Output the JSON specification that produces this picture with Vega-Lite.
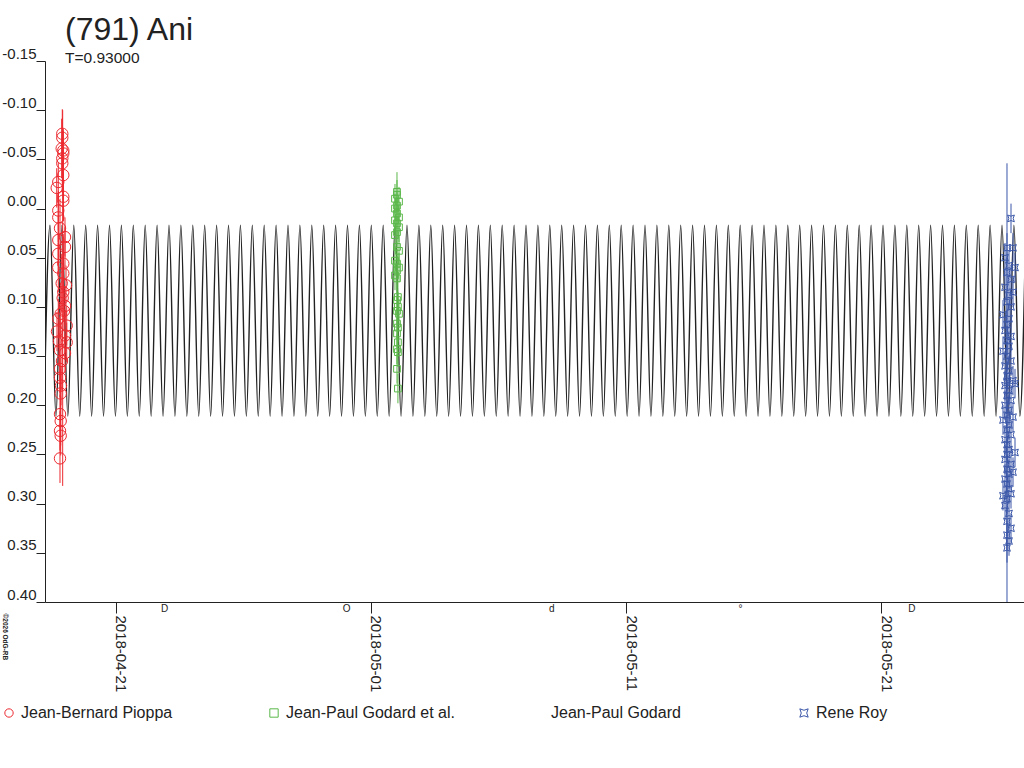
{
  "$schema": "https://vega.github.io/schema/vega-lite/v6.json",
  "width": 979,
  "height": 541,
  "autosize": {"type": "none"},
  "padding": {"left": 45, "top": 61, "right": 0, "bottom": 166},
  "config": {"font": "Liberation Sans", "view": {"stroke": null}},
  "title": {
    "text": "(791) Ani",
    "subtitle": "T=0.93000",
    "anchor": "start",
    "frame": "group",
    "dx": 20,
    "offset": -21,
    "fontSize": 32,
    "fontWeight": "normal",
    "color": "#222222",
    "subtitleFontSize": 15.5,
    "subtitleColor": "#222222",
    "subtitlePadding": 4
  },
  "datasets": {
    "curve": [
      {"t":"2018-04-18T04:17","m":0.211},{"t":"2018-04-18T09:53","m":0.017},{"t":"2018-04-18T15:29","m":0.211},{"t":"2018-04-18T21:05","m":0.017},{"t":"2018-04-19T02:41","m":0.211},{"t":"2018-04-19T08:17","m":0.017},{"t":"2018-04-19T13:53","m":0.211},{"t":"2018-04-19T19:29","m":0.017},{"t":"2018-04-20T01:05","m":0.211},{"t":"2018-04-20T06:41","m":0.017},{"t":"2018-04-20T12:17","m":0.211},{"t":"2018-04-20T17:53","m":0.017},{"t":"2018-04-20T23:29","m":0.211},{"t":"2018-04-21T05:05","m":0.017},{"t":"2018-04-21T10:41","m":0.211},{"t":"2018-04-21T16:17","m":0.017},{"t":"2018-04-21T21:53","m":0.211},{"t":"2018-04-22T03:29","m":0.017},{"t":"2018-04-22T09:05","m":0.211},{"t":"2018-04-22T14:41","m":0.017},{"t":"2018-04-22T20:17","m":0.211},{"t":"2018-04-23T01:53","m":0.017},{"t":"2018-04-23T07:29","m":0.211},{"t":"2018-04-23T13:05","m":0.017},{"t":"2018-04-23T18:41","m":0.211},{"t":"2018-04-24T00:17","m":0.017},{"t":"2018-04-24T05:53","m":0.211},{"t":"2018-04-24T11:29","m":0.017},{"t":"2018-04-24T17:05","m":0.211},{"t":"2018-04-24T22:41","m":0.017},
      {"t":"2018-04-25T04:17","m":0.211},{"t":"2018-04-25T09:53","m":0.017},{"t":"2018-04-25T15:29","m":0.211},{"t":"2018-04-25T21:05","m":0.017},{"t":"2018-04-26T02:41","m":0.211},{"t":"2018-04-26T08:17","m":0.017},{"t":"2018-04-26T13:53","m":0.211},{"t":"2018-04-26T19:29","m":0.017},{"t":"2018-04-27T01:05","m":0.211},{"t":"2018-04-27T06:41","m":0.017},{"t":"2018-04-27T12:17","m":0.211},{"t":"2018-04-27T17:53","m":0.017},{"t":"2018-04-27T23:29","m":0.211},{"t":"2018-04-28T05:05","m":0.017},{"t":"2018-04-28T10:41","m":0.211},{"t":"2018-04-28T16:17","m":0.017},{"t":"2018-04-28T21:53","m":0.211},{"t":"2018-04-29T03:29","m":0.017},{"t":"2018-04-29T09:05","m":0.211},{"t":"2018-04-29T14:41","m":0.017},{"t":"2018-04-29T20:17","m":0.211},{"t":"2018-04-30T01:53","m":0.017},{"t":"2018-04-30T07:29","m":0.211},{"t":"2018-04-30T13:05","m":0.017},{"t":"2018-04-30T18:41","m":0.211},{"t":"2018-05-01T00:17","m":0.017},{"t":"2018-05-01T05:53","m":0.211},{"t":"2018-05-01T11:29","m":0.017},{"t":"2018-05-01T17:05","m":0.211},{"t":"2018-05-01T22:41","m":0.017},
      {"t":"2018-05-02T04:17","m":0.211},{"t":"2018-05-02T09:53","m":0.017},{"t":"2018-05-02T15:29","m":0.211},{"t":"2018-05-02T21:05","m":0.017},{"t":"2018-05-03T02:41","m":0.211},{"t":"2018-05-03T08:17","m":0.017},{"t":"2018-05-03T13:53","m":0.211},{"t":"2018-05-03T19:29","m":0.017},{"t":"2018-05-04T01:05","m":0.211},{"t":"2018-05-04T06:41","m":0.017},{"t":"2018-05-04T12:17","m":0.211},{"t":"2018-05-04T17:53","m":0.017},{"t":"2018-05-04T23:29","m":0.211},{"t":"2018-05-05T05:05","m":0.017},{"t":"2018-05-05T10:41","m":0.211},{"t":"2018-05-05T16:17","m":0.017},{"t":"2018-05-05T21:53","m":0.211},{"t":"2018-05-06T03:29","m":0.017},{"t":"2018-05-06T09:05","m":0.211},{"t":"2018-05-06T14:41","m":0.017},{"t":"2018-05-06T20:17","m":0.211},{"t":"2018-05-07T01:53","m":0.017},{"t":"2018-05-07T07:29","m":0.211},{"t":"2018-05-07T13:05","m":0.017},{"t":"2018-05-07T18:41","m":0.211},{"t":"2018-05-08T00:17","m":0.017},{"t":"2018-05-08T05:53","m":0.211},{"t":"2018-05-08T11:29","m":0.017},{"t":"2018-05-08T17:05","m":0.211},{"t":"2018-05-08T22:41","m":0.017},
      {"t":"2018-05-09T04:17","m":0.211},{"t":"2018-05-09T09:53","m":0.017},{"t":"2018-05-09T15:29","m":0.211},{"t":"2018-05-09T21:05","m":0.017},{"t":"2018-05-10T02:41","m":0.211},{"t":"2018-05-10T08:17","m":0.017},{"t":"2018-05-10T13:53","m":0.211},{"t":"2018-05-10T19:29","m":0.017},{"t":"2018-05-11T01:05","m":0.211},{"t":"2018-05-11T06:41","m":0.017},{"t":"2018-05-11T12:17","m":0.211},{"t":"2018-05-11T17:53","m":0.017},{"t":"2018-05-11T23:29","m":0.211},{"t":"2018-05-12T05:05","m":0.017},{"t":"2018-05-12T10:41","m":0.211},{"t":"2018-05-12T16:17","m":0.017},{"t":"2018-05-12T21:53","m":0.211},{"t":"2018-05-13T03:29","m":0.017},{"t":"2018-05-13T09:05","m":0.211},{"t":"2018-05-13T14:41","m":0.017},{"t":"2018-05-13T20:17","m":0.211},{"t":"2018-05-14T01:53","m":0.017},{"t":"2018-05-14T07:29","m":0.211},{"t":"2018-05-14T13:05","m":0.017},{"t":"2018-05-14T18:41","m":0.211},{"t":"2018-05-15T00:17","m":0.017},{"t":"2018-05-15T05:53","m":0.211},{"t":"2018-05-15T11:29","m":0.017},{"t":"2018-05-15T17:05","m":0.211},{"t":"2018-05-15T22:41","m":0.017},
      {"t":"2018-05-16T04:17","m":0.211},{"t":"2018-05-16T09:53","m":0.017},{"t":"2018-05-16T15:29","m":0.211},{"t":"2018-05-16T21:05","m":0.017},{"t":"2018-05-17T02:41","m":0.211},{"t":"2018-05-17T08:17","m":0.017},{"t":"2018-05-17T13:53","m":0.211},{"t":"2018-05-17T19:29","m":0.017},{"t":"2018-05-18T01:05","m":0.211},{"t":"2018-05-18T06:41","m":0.017},{"t":"2018-05-18T12:17","m":0.211},{"t":"2018-05-18T17:53","m":0.017},{"t":"2018-05-18T23:29","m":0.211},{"t":"2018-05-19T05:05","m":0.017},{"t":"2018-05-19T10:41","m":0.211},{"t":"2018-05-19T16:17","m":0.017},{"t":"2018-05-19T21:53","m":0.211},{"t":"2018-05-20T03:29","m":0.017},{"t":"2018-05-20T09:05","m":0.211},{"t":"2018-05-20T14:41","m":0.017},{"t":"2018-05-20T20:17","m":0.211},{"t":"2018-05-21T01:53","m":0.017},{"t":"2018-05-21T07:29","m":0.211},{"t":"2018-05-21T13:05","m":0.017},{"t":"2018-05-21T18:41","m":0.211},{"t":"2018-05-22T00:17","m":0.017},{"t":"2018-05-22T05:53","m":0.211},{"t":"2018-05-22T11:29","m":0.017},{"t":"2018-05-22T17:05","m":0.211},{"t":"2018-05-22T22:41","m":0.017},
      {"t":"2018-05-23T04:17","m":0.211},{"t":"2018-05-23T09:53","m":0.017},{"t":"2018-05-23T15:29","m":0.211},{"t":"2018-05-23T21:05","m":0.017},{"t":"2018-05-24T02:41","m":0.211},{"t":"2018-05-24T08:17","m":0.017},{"t":"2018-05-24T13:53","m":0.211},{"t":"2018-05-24T19:29","m":0.017},{"t":"2018-05-25T01:05","m":0.211},{"t":"2018-05-25T06:41","m":0.017},{"t":"2018-05-25T12:17","m":0.211},{"t":"2018-05-25T17:53","m":0.017},{"t":"2018-05-25T23:29","m":0.211},{"t":"2018-05-26T05:05","m":0.017},{"t":"2018-05-26T10:41","m":0.211},{"t":"2018-05-26T16:17","m":0.017}
    ],
    "obs": [
      {"t":"2018-04-18T21:27","m":-0.076,"e":0.025,"o":"Jean-Bernard Pioppa"},
      {"t":"2018-04-18T21:27","m":-0.072,"e":0.02,"o":"Jean-Bernard Pioppa"},
      {"t":"2018-04-18T20:54","m":-0.061,"e":0.03,"o":"Jean-Bernard Pioppa"},
      {"t":"2018-04-18T22:24","m":-0.059,"e":0.02,"o":"Jean-Bernard Pioppa"},
      {"t":"2018-04-18T22:24","m":-0.056,"e":0.025,"o":"Jean-Bernard Pioppa"},
      {"t":"2018-04-18T21:27","m":-0.051,"e":0.02,"o":"Jean-Bernard Pioppa"},
      {"t":"2018-04-18T21:27","m":-0.046,"e":0.03,"o":"Jean-Bernard Pioppa"},
      {"t":"2018-04-18T22:24","m":-0.034,"e":0.025,"o":"Jean-Bernard Pioppa"},
      {"t":"2018-04-18T17:41","m":-0.027,"e":0.02,"o":"Jean-Bernard Pioppa"},
      {"t":"2018-04-18T16:12","m":-0.021,"e":0.02,"o":"Jean-Bernard Pioppa"},
      {"t":"2018-04-18T22:24","m":-0.012,"e":0.025,"o":"Jean-Bernard Pioppa"},
      {"t":"2018-04-18T22:24","m":-0.008,"e":0.02,"o":"Jean-Bernard Pioppa"},
      {"t":"2018-04-18T17:41","m":0.002,"e":0.02,"o":"Jean-Bernard Pioppa"},
      {"t":"2018-04-18T17:41","m":0.009,"e":0.025,"o":"Jean-Bernard Pioppa"},
      {"t":"2018-04-18T19:18","m":0.020,"e":0.03,"o":"Jean-Bernard Pioppa"},
      {"t":"2018-04-19T00:00","m":0.029,"e":0.02,"o":"Jean-Bernard Pioppa"},
      {"t":"2018-04-18T17:41","m":0.032,"e":0.025,"o":"Jean-Bernard Pioppa"},
      {"t":"2018-04-19T00:00","m":0.039,"e":0.02,"o":"Jean-Bernard Pioppa"},
      {"t":"2018-04-18T17:41","m":0.046,"e":0.02,"o":"Jean-Bernard Pioppa"},
      {"t":"2018-04-18T22:24","m":0.056,"e":0.03,"o":"Jean-Bernard Pioppa"},
      {"t":"2018-04-18T17:41","m":0.060,"e":0.025,"o":"Jean-Bernard Pioppa"},
      {"t":"2018-04-18T22:24","m":0.066,"e":0.02,"o":"Jean-Bernard Pioppa"},
      {"t":"2018-04-18T20:54","m":0.076,"e":0.03,"o":"Jean-Bernard Pioppa"},
      {"t":"2018-04-18T22:24","m":0.085,"e":0.025,"o":"Jean-Bernard Pioppa"},
      {"t":"2018-04-19T00:56","m":0.078,"e":0.02,"o":"Jean-Bernard Pioppa"},
      {"t":"2018-04-19T00:00","m":0.099,"e":0.02,"o":"Jean-Bernard Pioppa"},
      {"t":"2018-04-18T19:57","m":0.107,"e":0.025,"o":"Jean-Bernard Pioppa"},
      {"t":"2018-04-18T17:41","m":0.112,"e":0.02,"o":"Jean-Bernard Pioppa"},
      {"t":"2018-04-19T01:36","m":0.119,"e":0.02,"o":"Jean-Bernard Pioppa"},
      {"t":"2018-04-19T00:00","m":0.129,"e":0.025,"o":"Jean-Bernard Pioppa"},
      {"t":"2018-04-19T01:36","m":0.136,"e":0.02,"o":"Jean-Bernard Pioppa"},
      {"t":"2018-04-18T19:18","m":0.144,"e":0.03,"o":"Jean-Bernard Pioppa"},
      {"t":"2018-04-19T00:00","m":0.147,"e":0.02,"o":"Jean-Bernard Pioppa"},
      {"t":"2018-04-18T19:18","m":0.163,"e":0.025,"o":"Jean-Bernard Pioppa"},
      {"t":"2018-04-18T19:18","m":0.172,"e":0.02,"o":"Jean-Bernard Pioppa"},
      {"t":"2018-04-18T19:57","m":0.188,"e":0.025,"o":"Jean-Bernard Pioppa"},
      {"t":"2018-04-18T19:18","m":0.209,"e":0.02,"o":"Jean-Bernard Pioppa"},
      {"t":"2018-04-18T19:57","m":0.216,"e":0.025,"o":"Jean-Bernard Pioppa"},
      {"t":"2018-04-18T19:18","m":0.226,"e":0.02,"o":"Jean-Bernard Pioppa"},
      {"t":"2018-04-18T19:57","m":0.231,"e":0.02,"o":"Jean-Bernard Pioppa"},
      {"t":"2018-04-18T19:18","m":0.254,"e":0.025,"o":"Jean-Bernard Pioppa"},
      {"t":"2018-04-18T16:28","m":0.125,"e":0.02,"o":"Jean-Bernard Pioppa"},
      {"t":"2018-04-18T18:21","m":0.135,"e":0.025,"o":"Jean-Bernard Pioppa"},
      {"t":"2018-04-18T23:04","m":0.104,"e":0.02,"o":"Jean-Bernard Pioppa"},
      {"t":"2018-04-18T21:10","m":0.155,"e":0.03,"o":"Jean-Bernard Pioppa"},
      {"t":"2018-04-18T20:14","m":0.180,"e":0.02,"o":"Jean-Bernard Pioppa"},
      {"t":"2018-04-18T21:49","m":0.091,"e":0.191,"o":"Jean-Bernard Pioppa"},
      {"t":"2018-05-02T00:28","m":-0.017,"e":0.02,"o":"Jean-Paul Godard et al."},
      {"t":"2018-05-02T00:28","m":-0.014,"e":0.015,"o":"Jean-Paul Godard et al."},
      {"t":"2018-05-01T22:35","m":-0.010,"e":0.015,"o":"Jean-Paul Godard et al."},
      {"t":"2018-05-02T02:21","m":-0.007,"e":0.015,"o":"Jean-Paul Godard et al."},
      {"t":"2018-05-02T00:28","m":-0.003,"e":0.015,"o":"Jean-Paul Godard et al."},
      {"t":"2018-05-01T22:35","m":0.000,"e":0.015,"o":"Jean-Paul Godard et al."},
      {"t":"2018-05-02T00:28","m":0.005,"e":0.015,"o":"Jean-Paul Godard et al."},
      {"t":"2018-05-02T02:21","m":0.009,"e":0.015,"o":"Jean-Paul Godard et al."},
      {"t":"2018-05-01T22:35","m":0.012,"e":0.015,"o":"Jean-Paul Godard et al."},
      {"t":"2018-05-02T00:28","m":0.015,"e":0.015,"o":"Jean-Paul Godard et al."},
      {"t":"2018-05-02T02:21","m":0.019,"e":0.015,"o":"Jean-Paul Godard et al."},
      {"t":"2018-05-02T00:28","m":0.024,"e":0.015,"o":"Jean-Paul Godard et al."},
      {"t":"2018-05-01T22:35","m":0.027,"e":0.015,"o":"Jean-Paul Godard et al."},
      {"t":"2018-05-02T00:28","m":0.039,"e":0.015,"o":"Jean-Paul Godard et al."},
      {"t":"2018-05-02T02:21","m":0.043,"e":0.015,"o":"Jean-Paul Godard et al."},
      {"t":"2018-05-01T22:35","m":0.053,"e":0.015,"o":"Jean-Paul Godard et al."},
      {"t":"2018-05-02T00:28","m":0.056,"e":0.015,"o":"Jean-Paul Godard et al."},
      {"t":"2018-05-02T02:21","m":0.060,"e":0.015,"o":"Jean-Paul Godard et al."},
      {"t":"2018-05-02T00:28","m":0.063,"e":0.015,"o":"Jean-Paul Godard et al."},
      {"t":"2018-05-01T22:35","m":0.068,"e":0.015,"o":"Jean-Paul Godard et al."},
      {"t":"2018-05-02T00:28","m":0.071,"e":0.015,"o":"Jean-Paul Godard et al."},
      {"t":"2018-05-02T01:20","m":0.090,"e":0.015,"o":"Jean-Paul Godard et al."},
      {"t":"2018-05-02T00:28","m":0.093,"e":0.015,"o":"Jean-Paul Godard et al."},
      {"t":"2018-05-02T01:20","m":0.100,"e":0.015,"o":"Jean-Paul Godard et al."},
      {"t":"2018-05-02T00:28","m":0.104,"e":0.015,"o":"Jean-Paul Godard et al."},
      {"t":"2018-05-02T02:21","m":0.107,"e":0.015,"o":"Jean-Paul Godard et al."},
      {"t":"2018-05-02T00:28","m":0.117,"e":0.015,"o":"Jean-Paul Godard et al."},
      {"t":"2018-05-02T01:20","m":0.121,"e":0.015,"o":"Jean-Paul Godard et al."},
      {"t":"2018-05-02T00:28","m":0.127,"e":0.015,"o":"Jean-Paul Godard et al."},
      {"t":"2018-05-02T01:20","m":0.136,"e":0.015,"o":"Jean-Paul Godard et al."},
      {"t":"2018-05-02T00:28","m":0.143,"e":0.015,"o":"Jean-Paul Godard et al."},
      {"t":"2018-05-02T01:20","m":0.146,"e":0.015,"o":"Jean-Paul Godard et al."},
      {"t":"2018-05-02T00:28","m":0.163,"e":0.015,"o":"Jean-Paul Godard et al."},
      {"t":"2018-05-02T01:20","m":0.183,"e":0.015,"o":"Jean-Paul Godard et al."},
      {"t":"2018-05-26T02:21","m":0.010,"e":0.015,"o":"Rene Roy"},
      {"t":"2018-05-25T22:35","m":0.040,"e":0.015,"o":"Rene Roy"},
      {"t":"2018-05-26T04:14","m":0.040,"e":0.015,"o":"Rene Roy"},
      {"t":"2018-05-25T20:43","m":0.050,"e":0.015,"o":"Rene Roy"},
      {"t":"2018-05-26T00:28","m":0.058,"e":0.015,"o":"Rene Roy"},
      {"t":"2018-05-26T06:07","m":0.060,"e":0.015,"o":"Rene Roy"},
      {"t":"2018-05-25T22:35","m":0.065,"e":0.015,"o":"Rene Roy"},
      {"t":"2018-05-26T02:21","m":0.072,"e":0.015,"o":"Rene Roy"},
      {"t":"2018-05-25T20:43","m":0.080,"e":0.015,"o":"Rene Roy"},
      {"t":"2018-05-26T04:14","m":0.085,"e":0.015,"o":"Rene Roy"},
      {"t":"2018-05-26T00:28","m":0.088,"e":0.015,"o":"Rene Roy"},
      {"t":"2018-05-25T22:35","m":0.095,"e":0.015,"o":"Rene Roy"},
      {"t":"2018-05-26T02:21","m":0.100,"e":0.015,"o":"Rene Roy"},
      {"t":"2018-05-25T18:49","m":0.108,"e":0.015,"o":"Rene Roy"},
      {"t":"2018-05-26T00:28","m":0.112,"e":0.015,"o":"Rene Roy"},
      {"t":"2018-05-25T22:35","m":0.118,"e":0.015,"o":"Rene Roy"},
      {"t":"2018-05-25T20:43","m":0.124,"e":0.015,"o":"Rene Roy"},
      {"t":"2018-05-26T02:21","m":0.130,"e":0.015,"o":"Rene Roy"},
      {"t":"2018-05-25T22:35","m":0.134,"e":0.015,"o":"Rene Roy"},
      {"t":"2018-05-26T00:28","m":0.140,"e":0.015,"o":"Rene Roy"},
      {"t":"2018-05-25T18:49","m":0.145,"e":0.015,"o":"Rene Roy"},
      {"t":"2018-05-25T22:35","m":0.150,"e":0.015,"o":"Rene Roy"},
      {"t":"2018-05-26T02:21","m":0.155,"e":0.015,"o":"Rene Roy"},
      {"t":"2018-05-25T20:43","m":0.160,"e":0.015,"o":"Rene Roy"},
      {"t":"2018-05-26T00:28","m":0.165,"e":0.015,"o":"Rene Roy"},
      {"t":"2018-05-25T22:35","m":0.170,"e":0.015,"o":"Rene Roy"},
      {"t":"2018-05-26T04:14","m":0.175,"e":0.015,"o":"Rene Roy"},
      {"t":"2018-05-26T06:07","m":0.178,"e":0.015,"o":"Rene Roy"},
      {"t":"2018-05-25T20:43","m":0.180,"e":0.015,"o":"Rene Roy"},
      {"t":"2018-05-26T00:28","m":0.185,"e":0.015,"o":"Rene Roy"},
      {"t":"2018-05-25T22:35","m":0.190,"e":0.015,"o":"Rene Roy"},
      {"t":"2018-05-26T02:21","m":0.195,"e":0.015,"o":"Rene Roy"},
      {"t":"2018-05-25T20:43","m":0.200,"e":0.015,"o":"Rene Roy"},
      {"t":"2018-05-26T00:28","m":0.205,"e":0.015,"o":"Rene Roy"},
      {"t":"2018-05-25T22:35","m":0.210,"e":0.015,"o":"Rene Roy"},
      {"t":"2018-05-26T04:14","m":0.212,"e":0.015,"o":"Rene Roy"},
      {"t":"2018-05-25T18:49","m":0.215,"e":0.015,"o":"Rene Roy"},
      {"t":"2018-05-26T00:28","m":0.220,"e":0.015,"o":"Rene Roy"},
      {"t":"2018-05-25T22:35","m":0.225,"e":0.015,"o":"Rene Roy"},
      {"t":"2018-05-26T02:21","m":0.230,"e":0.015,"o":"Rene Roy"},
      {"t":"2018-05-25T20:43","m":0.235,"e":0.015,"o":"Rene Roy"},
      {"t":"2018-05-25T22:35","m":0.240,"e":0.015,"o":"Rene Roy"},
      {"t":"2018-05-26T00:28","m":0.245,"e":0.015,"o":"Rene Roy"},
      {"t":"2018-05-26T06:07","m":0.248,"e":0.015,"o":"Rene Roy"},
      {"t":"2018-05-25T22:35","m":0.250,"e":0.015,"o":"Rene Roy"},
      {"t":"2018-05-25T20:43","m":0.255,"e":0.015,"o":"Rene Roy"},
      {"t":"2018-05-26T02:21","m":0.260,"e":0.015,"o":"Rene Roy"},
      {"t":"2018-05-25T22:35","m":0.265,"e":0.015,"o":"Rene Roy"},
      {"t":"2018-05-26T04:14","m":0.268,"e":0.015,"o":"Rene Roy"},
      {"t":"2018-05-26T00:28","m":0.270,"e":0.015,"o":"Rene Roy"},
      {"t":"2018-05-25T20:43","m":0.275,"e":0.015,"o":"Rene Roy"},
      {"t":"2018-05-25T22:35","m":0.280,"e":0.015,"o":"Rene Roy"},
      {"t":"2018-05-26T00:28","m":0.285,"e":0.015,"o":"Rene Roy"},
      {"t":"2018-05-26T02:21","m":0.290,"e":0.015,"o":"Rene Roy"},
      {"t":"2018-05-25T18:49","m":0.292,"e":0.015,"o":"Rene Roy"},
      {"t":"2018-05-25T22:35","m":0.295,"e":0.015,"o":"Rene Roy"},
      {"t":"2018-05-25T20:43","m":0.302,"e":0.015,"o":"Rene Roy"},
      {"t":"2018-05-26T00:28","m":0.310,"e":0.015,"o":"Rene Roy"},
      {"t":"2018-05-25T22:35","m":0.318,"e":0.015,"o":"Rene Roy"},
      {"t":"2018-05-26T02:21","m":0.325,"e":0.015,"o":"Rene Roy"},
      {"t":"2018-05-25T22:35","m":0.332,"e":0.015,"o":"Rene Roy"},
      {"t":"2018-05-26T00:28","m":0.338,"e":0.015,"o":"Rene Roy"},
      {"t":"2018-05-25T22:35","m":0.345,"e":0.015,"o":"Rene Roy"},
      {"t":"2018-05-25T22:35","m":0.177,"e":0.223,"o":"Rene Roy"}
    ],
    "moon": [
      {"t":"2018-04-22T21:46","s":"D"},
      {"t":"2018-04-30T00:58","s":"O"},
      {"t":"2018-05-08T02:09","s":"d"},
      {"t":"2018-05-15T11:48","s":"°"},
      {"t":"2018-05-22T05:00","s":"D"}
    ]
  },
  "encoding": {
    "x": {
      "field": "t",
      "type": "temporal",
      "scale": {
        "domain": [
          {"year": 2018, "month": 4, "date": 18, "hours": 5, "minutes": 11},
          {"year": 2018, "month": 5, "date": 26, "hours": 14, "minutes": 35}
        ],
        "nice": false
      },
      "axis": {
        "title": null,
        "grid": false,
        "values": [
          {"year": 2018, "month": 4, "date": 21},
          {"year": 2018, "month": 5, "date": 1},
          {"year": 2018, "month": 5, "date": 11},
          {"year": 2018, "month": 5, "date": 21}
        ],
        "format": "%Y-%m-%d",
        "labelAngle": 90,
        "labelAlign": "left",
        "labelBaseline": "alphabetic",
        "labelFontSize": 15,
        "labelColor": "#222222",
        "labelPadding": 2,
        "tickSize": 11,
        "tickColor": "#222222",
        "domainColor": "#222222",
        "labelFlush": false,
        "labelOverlap": false
      }
    }
  },
  "layer": [
    {
      "data": {"name": "curve"},
      "mark": {"type": "line", "interpolate": "monotone", "color": "#222222", "strokeWidth": 1.4, "clip": true},
      "encoding": {
        "y": {
          "field": "m",
          "type": "quantitative",
          "title": "©2026 OdG-RB",
          "scale": {"domain": [-0.15, 0.4], "reverse": true, "nice": false, "zero": false},
          "axis": {
            "titleAngle": 90,
            "titleFontSize": 6.5,
            "titleFontWeight": "bold",
            "titleColor": "#222222",
            "titleAlign": "left",
            "titleBaseline": "alphabetic",
            "titleX": -43,
            "titleY": 552,
            "grid": false,
            "values": [-0.15, -0.1, -0.05, 0, 0.05, 0.1, 0.15, 0.2, 0.25, 0.3, 0.35, 0.4],
            "format": ".2f",
            "labelExpr": "replace(datum.label, '−', '-')",
            "labelFontSize": 15,
            "labelColor": "#222222",
            "labelBaseline": "alphabetic",
            "labelOffset": -3,
            "labelPadding": 0,
            "tickSize": 9,
            "tickColor": "#222222",
            "domainColor": "#222222",
            "labelFlush": false,
            "labelOverlap": false
          }
        }
      }
    },
    {
      "data": {"name": "obs"},
      "mark": {"type": "errorbar", "thickness": 1, "clip": true},
      "encoding": {
        "y": {"field": "m", "type": "quantitative", "title": "©2026 OdG-RB"},
        "yError": {"field": "e"},
        "color": {
          "field": "o",
          "type": "nominal",
          "scale": {
            "domain": ["Jean-Bernard Pioppa", "Jean-Paul Godard et al.", "Jean-Paul Godard", "Rene Roy"],
            "range": ["#ec2a30", "#5bb84a", "#222222", "#3a56a8"]
          }
        }
      }
    },
    {
      "data": {"name": "obs"},
      "mark": {"type": "point", "filled": false, "strokeWidth": 1, "opacity": 1},
      "encoding": {
        "y": {"field": "m", "type": "quantitative", "title": "©2026 OdG-RB"},
        "color": {
          "field": "o",
          "type": "nominal",
          "scale": {
            "domain": ["Jean-Bernard Pioppa", "Jean-Paul Godard et al.", "Jean-Paul Godard", "Rene Roy"],
            "range": ["#ec2a30", "#5bb84a", "#222222", "#3a56a8"]
          },
          "legend": {
            "title": null,
            "orient": "none",
            "legendX": -44,
            "legendY": 644,
            "direction": "horizontal",
            "columns": 4,
            "gridAlign": "all",
            "columnPadding": 76,
            "labelFontSize": 16,
            "labelColor": "#222222",
            "labelOffset": 4,
            "labelLimit": 300,
            "symbolSize": 70,
            "symbolStrokeWidth": 1,
            "padding": 0
          }
        },
        "shape": {
          "field": "o",
          "type": "nominal",
          "scale": {
            "domain": ["Jean-Bernard Pioppa", "Jean-Paul Godard et al.", "Jean-Paul Godard", "Rene Roy"],
            "range": ["circle", "square", "M0,0", "M-1,-1Q0,-0.3,1,-1Q0.3,0,1,1Q0,0.3,-1,1Q-0.3,0,-1,-1Z"]
          }
        },
        "size": {
          "condition": {"test": "datum.o === 'Jean-Bernard Pioppa'", "value": 130},
          "value": 45
        }
      }
    },
    {
      "data": {"name": "moon"},
      "mark": {"type": "text", "dy": 7, "baseline": "middle", "fontSize": 10, "color": "#222222"},
      "encoding": {
        "y": {"datum": 0.4, "type": "quantitative"},
        "text": {"field": "s"}
      }
    }
  ]
}
